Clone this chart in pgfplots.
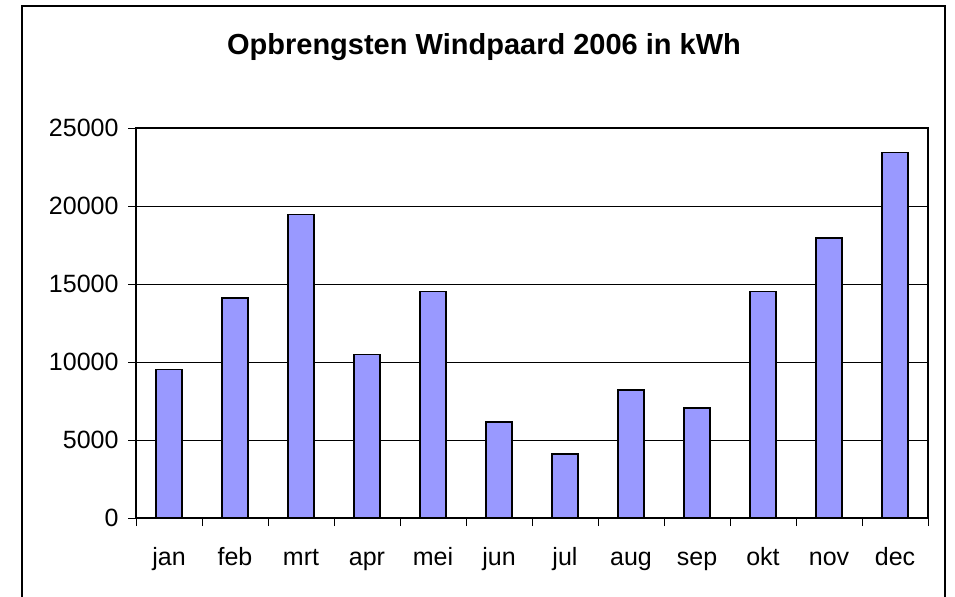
\documentclass[border=0pt]{standalone}
\usepackage{pgfplots}
\pgfplotsset{compat=1.18}
\usepackage{fontspec}
\setmainfont{Liberation Sans}
\begin{document}
\begin{tikzpicture}
\useasboundingbox (0,0) rectangle (955bp,597bp);
\draw[line width=1.2bp] (22bp,591bp) rectangle (945bp,-20bp);
\node[font=\fontsize{29bp}{34bp}\selectfont\bfseries] at (484bp,550bp) {Opbrengsten Windpaard 2006 in kWh};
\begin{axis}[
  at={(136bp,79bp)}, anchor=south west,
  scale only axis, width=792bp, height=390bp,
  xmin=-0.5, xmax=11.5, ymin=0, ymax=25000,
  ytick={0,5000,10000,15000,20000,25000},
  scaled y ticks=false,
  xtick={0,...,11},
  xticklabels={jan,feb,mrt,apr,mei,jun,jul,aug,sep,okt,nov,dec},
  minor xtick={-0.5,0.5,...,11.5},
  major x tick style={draw=none},
  xtick pos=bottom, ytick pos=left,
  tick align=outside,
  major tick length=8bp, minor tick length=8bp,
  tick style={black, line width=0.8bp},
  ymajorgrids, grid style={black, line width=0.9bp},
  axis line style={black, line width=1.3bp},
  /pgf/number format/1000 sep={},
  /pgf/number format/assume math mode=true,
  ticklabel style={font=\fontsize{25bp}{30bp}\selectfont},
  yticklabel style={xshift=-6bp},
  xticklabel style={anchor=base, yshift=-39bp},
]
\addplot[ybar, bar width=26bp, fill={rgb,255:red,153;green,153;blue,255}, draw=black, line width=1.3bp]
coordinates {(0,9500) (1,14100) (2,19450) (3,10500) (4,14500) (5,6150) (6,4100) (7,8200) (8,7050) (9,14500) (10,17950) (11,23450)};
\end{axis}
\end{tikzpicture}
\end{document}
